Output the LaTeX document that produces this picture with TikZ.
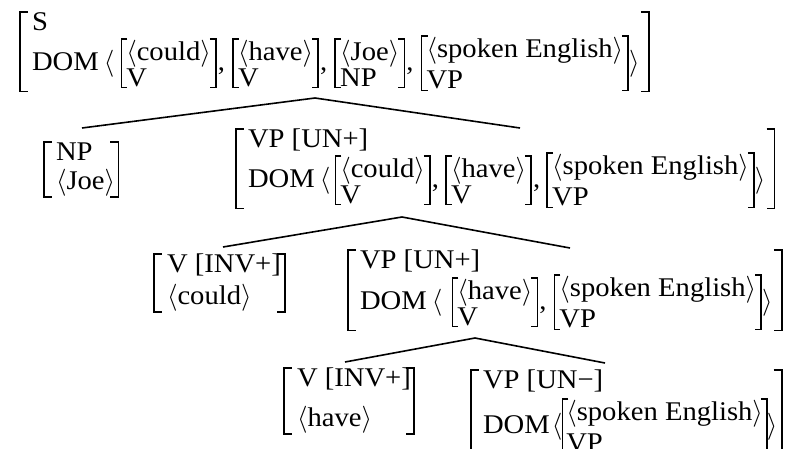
\documentclass[tikz,border=0pt]{standalone}
\usepackage{fix-cm}
\usepackage{fontspec}
\setmainfont[FakeStretch=1.06]{Liberation Serif}
\usetikzlibrary{positioning,fit}
\newcommand\angl{\raisebox{0pt}[\height][0pt]{$\langle$}}
\newcommand\angr{\raisebox{0pt}[\height][0pt]{$\rangle$}}
% value over category, stacked by their own extents and centred on the axis
\newcommand\avmcell[2]{$\vcenter{\baselineskip=0pt \lineskip=8pt \lineskiplimit=\maxdimen
  \hbox{#1}\hbox{#2}}$}
\tikzset{
  tx/.style     = {font=\fontsize{27}{30}\selectfont, inner sep=0pt, outer sep=0pt, text height=20.25pt, text depth=6.75pt},
  hd/.style     = {tx, anchor=base west},
  hdr/.style    = {tx, anchor=base west, text height=17pt, text depth=0pt},
  cell/.style   = {font=\fontsize{27}{30}\selectfont, inner xsep=5pt, inner ysep=1pt, outer sep=0pt, anchor=base west},
  avm/.style    = {inner xsep=0pt, inner ysep=1pt},
  brk/.style    = {line width=1.5pt},
  brkbig/.style = {line width=1.7pt},
  branch/.style = {line width=1.6pt},
}

\begin{document}
\begin{tikzpicture}[x=1pt,y=-1pt]
\path[use as bounding box] (0,0) rectangle (790,448);
\clip (0,0) rectangle (790,448);

% ---- S ------------------------------------------------------------------
\node[hdr] (s-hd) at (32,30) {S};
\node[hd] (s-dom) at (32,70) {DOM};
\node[tx, right=5pt of s-dom] (s-lt) {\angl};
\node[cell] (s-m1) at ([xshift=7pt]s-lt.base east) {\avmcell{\angl could\angr}{V}};
\node[hd] (s-c1) at ([xshift=2pt]s-m1.base east) {,};
\node[cell] (s-m2) at ([xshift=8pt]s-c1.base east) {\avmcell{\angl have\angr}{V}};
\node[hd] (s-c2) at ([xshift=2pt]s-m2.base east) {,};
\node[cell] (s-m3) at ([xshift=8pt]s-c2.base east) {\avmcell{\angl Joe\angr}{NP}};
\node[hd] (s-c3) at ([xshift=2pt]s-m3.base east) {,};
\node[cell] (s-m4) at ([xshift=8pt]s-c3.base east) {\avmcell{\angl spoken English\angr}{VP}};
\node[hd] (s-rt) at ([xshift=1pt]s-m4.base east) {\angr};
\node[avm, fit=(s-hd)(s-dom)(s-m1)(s-m4)(s-rt)] (s-avm) {};

% ---- NP -----------------------------------------------------------------
\node[hdr] (np-hd) at (56,160) {NP};
\node[hd] (np-val) at (56,189) {\angl Joe\angr};
\node[avm, fit=(np-hd)(np-val)] (np-avm) {};

% ---- VP [UN+] -----------------------------------------------------------
\node[hdr] (vp1-hd) at (248,147) {VP [UN+]};
\node[hd] (vp1-dom) at (248,187) {DOM};
\node[tx, right=5pt of vp1-dom] (vp1-lt) {\angl};
\node[cell] (vp1-m1) at ([xshift=5pt]vp1-lt.base east) {\avmcell{\angl could\angr}{V}};
\node[hd] (vp1-c1) at ([xshift=2pt]vp1-m1.base east) {,};
\node[cell] (vp1-m2) at ([xshift=7pt]vp1-c1.base east) {\avmcell{\angl have\angr}{V}};
\node[hd] (vp1-c2) at ([xshift=2pt]vp1-m2.base east) {,};
\node[cell] (vp1-m3) at ([xshift=7pt]vp1-c2.base east) {\avmcell{\angl spoken English\angr}{VP}};
\node[hd] (vp1-rt) at ([xshift=1pt]vp1-m3.base east) {\angr};
\node[avm, fit=(vp1-hd)(vp1-dom)(vp1-m1)(vp1-m3)(vp1-rt)] (vp1-avm) {};

% ---- V [INV+] could -----------------------------------------------------
\node[hdr] (v1-hd) at (167,272) {V [INV+]};
\node[hd] (v1-val) at (167,304) {\angl could\angr};
\node[avm, fit=(v1-hd)(v1-val)] (v1-avm) {};

% ---- VP [UN+] -----------------------------------------------------------
\node[hdr] (vp2-hd) at (360,268) {VP [UN+]};
\node[hd] (vp2-dom) at (360,309) {DOM};
\node[tx, right=5pt of vp2-dom] (vp2-lt) {\angl};
\node[cell] (vp2-m1) at ([xshift=10pt]vp2-lt.base east) {\avmcell{\angl have\angr}{V}};
\node[hd] (vp2-c1) at ([xshift=2pt]vp2-m1.base east) {,};
\node[cell] (vp2-m2) at ([xshift=8pt]vp2-c1.base east) {\avmcell{\angl spoken English\angr}{VP}};
\node[hd] (vp2-rt) at ([xshift=1pt]vp2-m2.base east) {\angr};
\node[avm, fit=(vp2-hd)(vp2-dom)(vp2-m1)(vp2-m2)(vp2-rt)] (vp2-avm) {};

% ---- V [INV+] have ------------------------------------------------------
\node[hdr] (v2-hd) at (297,386) {V [INV+]};
\node[hd] (v2-val) at (297,426) {\angl have\angr};
\node[avm, fit=(v2-hd)(v2-val)] (v2-avm) {};

% ---- VP [UN-] -----------------------------------------------------------
\node[hdr] (vp3-hd) at (483,388) {VP [UN−]};
\node[hd] (vp3-dom) at (483,433) {DOM};
\node[tx, right=2pt of vp3-dom] (vp3-lt) {\angl};
\node[cell, inner xsep=4pt] (vp3-m1) at (vp3-lt.base east) {\avmcell{\angl spoken English\angr}{VP}};
\node[hd] (vp3-rt) at (vp3-m1.base east) {\angr};
\node[avm, fit=(vp3-hd)(vp3-dom)(vp3-m1)(vp3-rt)] (vp3-avm) {};

% brackets: outer ones get their own left/right gap
\foreach \b/\l/\r in {s-avm/12/9, np-avm/12/3, vp1-avm/12/9, v1-avm/13/4,
                      vp2-avm/12/9, v2-avm/13/3, vp3-avm/12/4} {
  \draw[brkbig] ([xshift=-\l pt]\b.north west) ++(8pt,0) -- ++(-8pt,0)
                -- ([xshift=-\l pt]\b.south west) -- ++(8pt,0);
  \draw[brkbig] ([xshift=\r pt]\b.north east) ++(-8pt,0) -- ++(8pt,0)
                -- ([xshift=\r pt]\b.south east) -- ++(-8pt,0);
}
\foreach \m in {s-m1,s-m2,s-m3,s-m4,vp1-m1,vp1-m2,vp1-m3,vp2-m1,vp2-m2,vp3-m1}
  \draw[brk] ([xshift=6pt]\m.north west) -| (\m.south west) -- ++(6pt,0)
             ([xshift=-6pt]\m.north east) -| (\m.south east) -- ++(-6pt,0);

% ---- branches -----------------------------------------------------------
\coordinate (s-fork)   at (315,98);
\coordinate (np-top)   at (82,128);
\coordinate (vp1-top)  at (520,128);
\coordinate (vp1-fork) at (402,217);
\coordinate (v1-top)   at (223,247);
\coordinate (vp2-top)  at (570,248);
\coordinate (vp2-fork) at (475,338);
\coordinate (v2-top)   at (345,362);
\coordinate (vp3-top)  at (605,363);

\draw[branch] (np-top) -- (s-fork) -- (vp1-top);
\draw[branch] (v1-top) -- (vp1-fork) -- (vp2-top);
\draw[branch] (v2-top) -- (vp2-fork) -- (vp3-top);

\end{tikzpicture}
\end{document}
